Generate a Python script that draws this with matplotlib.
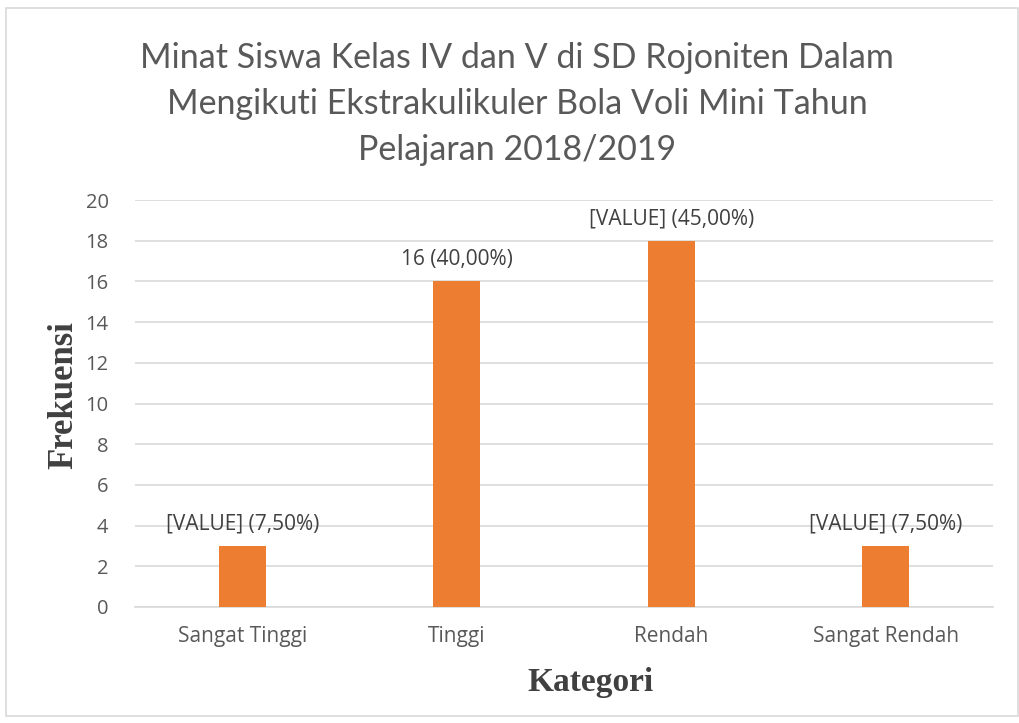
import matplotlib.pyplot as plt
from matplotlib.patches import Rectangle

# data
kategori = ['Sangat Tinggi', 'Tinggi', 'Rendah', 'Sangat Rendah']
frekuensi = [3, 16, 18, 3]
label_teks = ['[VALUE] (7,50%)', '16 (40,00%)', '[VALUE] (45,00%)', '[VALUE] (7,50%)']
yticks = list(range(0, 21, 2))

judul = ('Minat Siswa Kelas IV dan V di SD Rojoniten Dalam\n'
         'Mengikuti Ekstrakulikuler Bola Voli Mini Tahun\n'
         'Pelajaran 2018/2019')

W, H = 1019, 723
fig = plt.figure(figsize=(W/100, H/100), dpi=100)

# light frame round the chart area
fig.patches.append(Rectangle((6/W, 1 - 716/H), 1 - 7/W, 708/H,
                             transform=fig.transFigure, fill=False,
                             edgecolor='#d9d9d9', linewidth=1.2))

ax = fig.add_axes([135/W, 1 - 607/H, (993-135)/W, (607-200)/H])

x = range(len(kategori))
ax.bar(x, frekuensi, width=0.22, color='#ed7d31', zorder=3)

ax.set_ylim(0, 20)
ax.set_xlim(-0.5, 3.5)
ax.set_yticks(yticks)
ax.grid(axis='y', color='#d9d9d9', linewidth=1.2, zorder=0)
for s in ['top', 'right', 'left']:
    ax.spines[s].set_visible(False)
ax.spines['bottom'].set_color('#d9d9d9')
ax.spines['bottom'].set_linewidth(1.2)
ax.tick_params(length=0)
ax.set_xticks(list(x))
ax.set_xticklabels(kategori, fontsize=15, color='#595959', family='Open Sans')
ax.tick_params(axis='x', pad=14)
ax.tick_params(axis='y', pad=19)
for t in ax.get_yticklabels():
    t.set_fontsize(14.5)
    t.set_color('#595959')
    t.set_family('Open Sans')

for i, (v, lab) in enumerate(zip(frekuensi, label_teks)):
    ax.annotate(lab, (i, v), xytext=(0, 8), textcoords='offset points',
                ha='center', va='bottom', fontsize=15, color='#404040',
                family='Open Sans')

fig.text(590/W, 1 - 683/H, 'Kategori', ha='center', va='center',
         fontsize=24, fontweight='bold', family='Liberation Serif', color='#404040')
fig.text(64/W, 1 - 395/H, 'Frekuensi', ha='center', va='center', rotation=90,
         fontsize=25, fontweight='bold', family='Liberation Serif', color='#404040')

fig.text(517/W, 1 - 104/H, judul, ha='center', va='center', fontsize=24.5,
         color='#595959', family='Lato', linespacing=1.55)

fig.savefig('out.png', dpi=100)
